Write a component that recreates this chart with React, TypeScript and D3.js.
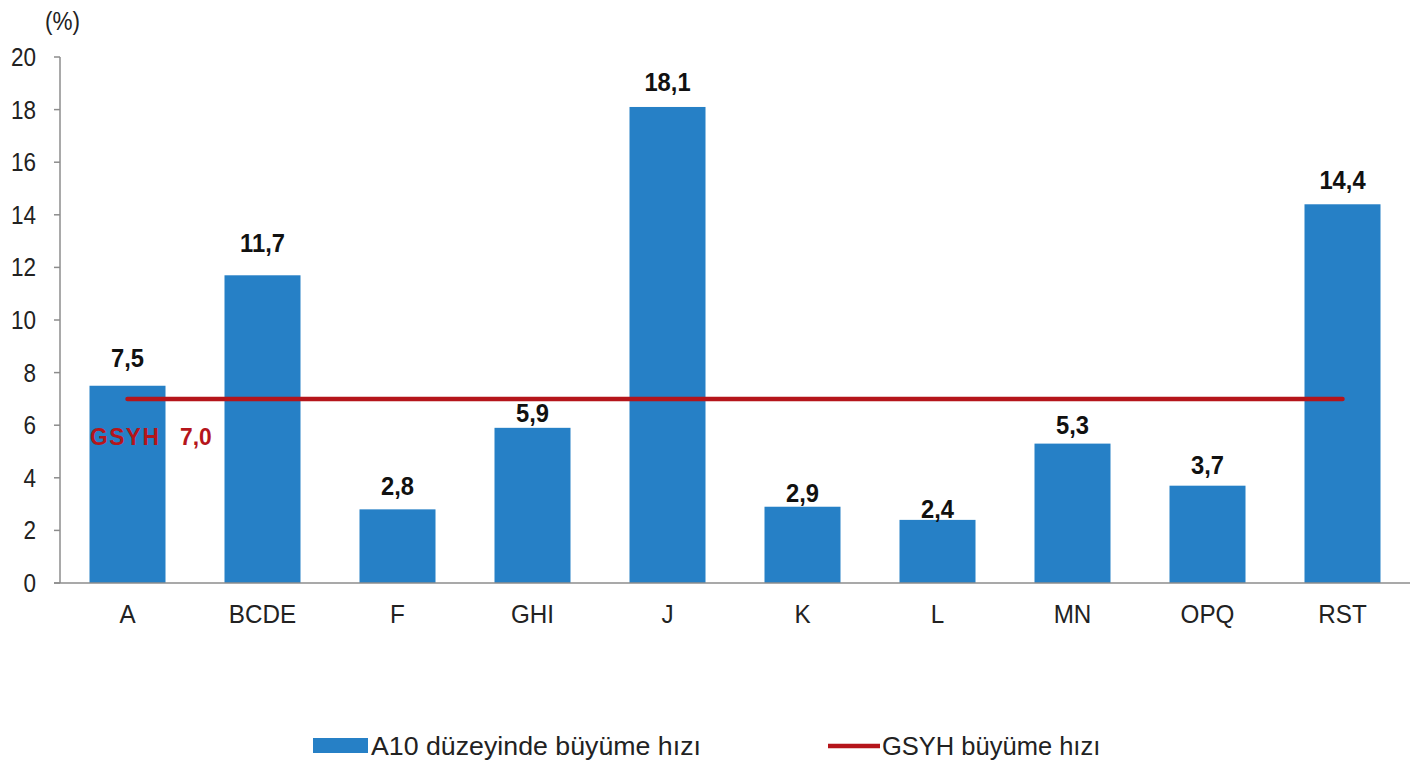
import React from "react";
import * as d3 from "d3";

const categories = ["A", "BCDE", "F", "GHI", "J", "K", "L", "MN", "OPQ", "RST"];
const growth = [7.5, 11.7, 2.8, 5.9, 18.1, 2.9, 2.4, 5.3, 3.7, 14.4];
const gdpGrowth = 7.0;
const yTicks = [0, 2, 4, 6, 8, 10, 12, 14, 16, 18, 20];
const barLegend = "A10 düzeyinde büyüme hızı";
const lineLegend = "GSYH büyüme hızı";
const unitLabel = "(%)";
// gap (px) between each value label's baseline and its bar top, as placed in the reference
const labelGaps = [19, 23, 14, 6, 16, 5, 2, 10, 12, 15];

const W = 1419;
const H = 764;
const left = 60;
const right = 1410;
const top = 57;
const bottom = 583;
const BLUE = "#2680c6";
const RED = "#b5151b";
const FONT = "'Liberation Sans', Arial, sans-serif";

const fmt = (v: number) => v.toFixed(1).replace(".", ",");
const sx = (x: number, k: number) => `translate(${x},0) scale(${k},1) translate(${-x},0)`;

export default function App() {
  const x = d3.scaleBand<string>().domain(categories).range([left, right]).paddingInner(0.437).paddingOuter(0.2185);
  const y = d3.scaleLinear().domain([0, 20]).range([bottom, top]);
  const cx = (c: string) => (x(c) as number) + x.bandwidth() / 2;
  const lineY = y(gdpGrowth);
  const textStyle = { fontFamily: FONT };
  return (
    <svg width={W} height={H} style={{ position: "absolute", left: 0, top: 0 }}>
      <rect width={W} height={H} fill="#fff" />
      <text x={45} y={30} fontSize={25} fill="#222" style={textStyle} transform={sx(45, 0.9)}>{unitLabel}</text>
      {growth.map((v, i) => (
        <rect key={categories[i]} x={x(categories[i])} y={y(v)} width={x.bandwidth()} height={y(0) - y(v)} fill={BLUE} />
      ))}
      <line x1={left} x2={left} y1={top} y2={bottom} stroke="#8c8c8c" strokeWidth={1.5} />
      <line x1={left - 6} x2={right} y1={bottom} y2={bottom} stroke="#8c8c8c" strokeWidth={1.5} />
      {yTicks.map((t) => (
        <g key={t}>
          <line x1={left - 6} x2={left} y1={y(t)} y2={y(t)} stroke="#8c8c8c" strokeWidth={1.5} />
          <text x={36} y={y(t) + 9} fontSize={25} textAnchor="end" fill="#222" style={textStyle} transform={sx(36, 0.9)}>{t}</text>
        </g>
      ))}
      {categories.map((c) => (
        <text key={c} x={cx(c)} y={623} fontSize={25} textAnchor="middle" fill="#222" style={textStyle} transform={sx(cx(c), 0.97)}>{c}</text>
      ))}
      {growth.map((v, i) => {
        const c = categories[i];
        return (
          <text key={c} x={cx(c)} y={y(v) - labelGaps[i]} fontSize={25} fontWeight="bold" textAnchor="middle" fill="#111" style={textStyle} transform={sx(cx(c), 0.95)}>{fmt(v)}</text>
        );
      })}
      <line x1={cx(categories[0])} x2={cx(categories[categories.length - 1])} y1={lineY} y2={lineY} stroke={RED} strokeWidth={4.5} strokeLinecap="round" />
      <text x={90} y={445} fontSize={24} fontWeight="bold" fill={RED} style={textStyle} transform={sx(90, 0.95)} letterSpacing={1.5}>GSYH</text>
      <text x={180} y={445} fontSize={24} fontWeight="bold" fill={RED} style={textStyle} transform={sx(180, 0.95)}>{fmt(gdpGrowth)}</text>
      <rect x={313} y={738} width={55} height={15} fill={BLUE} />
      <text x={371} y={755} fontSize={25} fill="#222" style={textStyle} transform={sx(371, 1.07)}>{barLegend}</text>
      <line x1={828} x2={880} y1={746} y2={746} stroke={RED} strokeWidth={4.5} />
      <text x={882} y={755} fontSize={25} fill="#222" style={textStyle} transform={sx(882, 1.02)}>{lineLegend}</text>
    </svg>
  );
}
